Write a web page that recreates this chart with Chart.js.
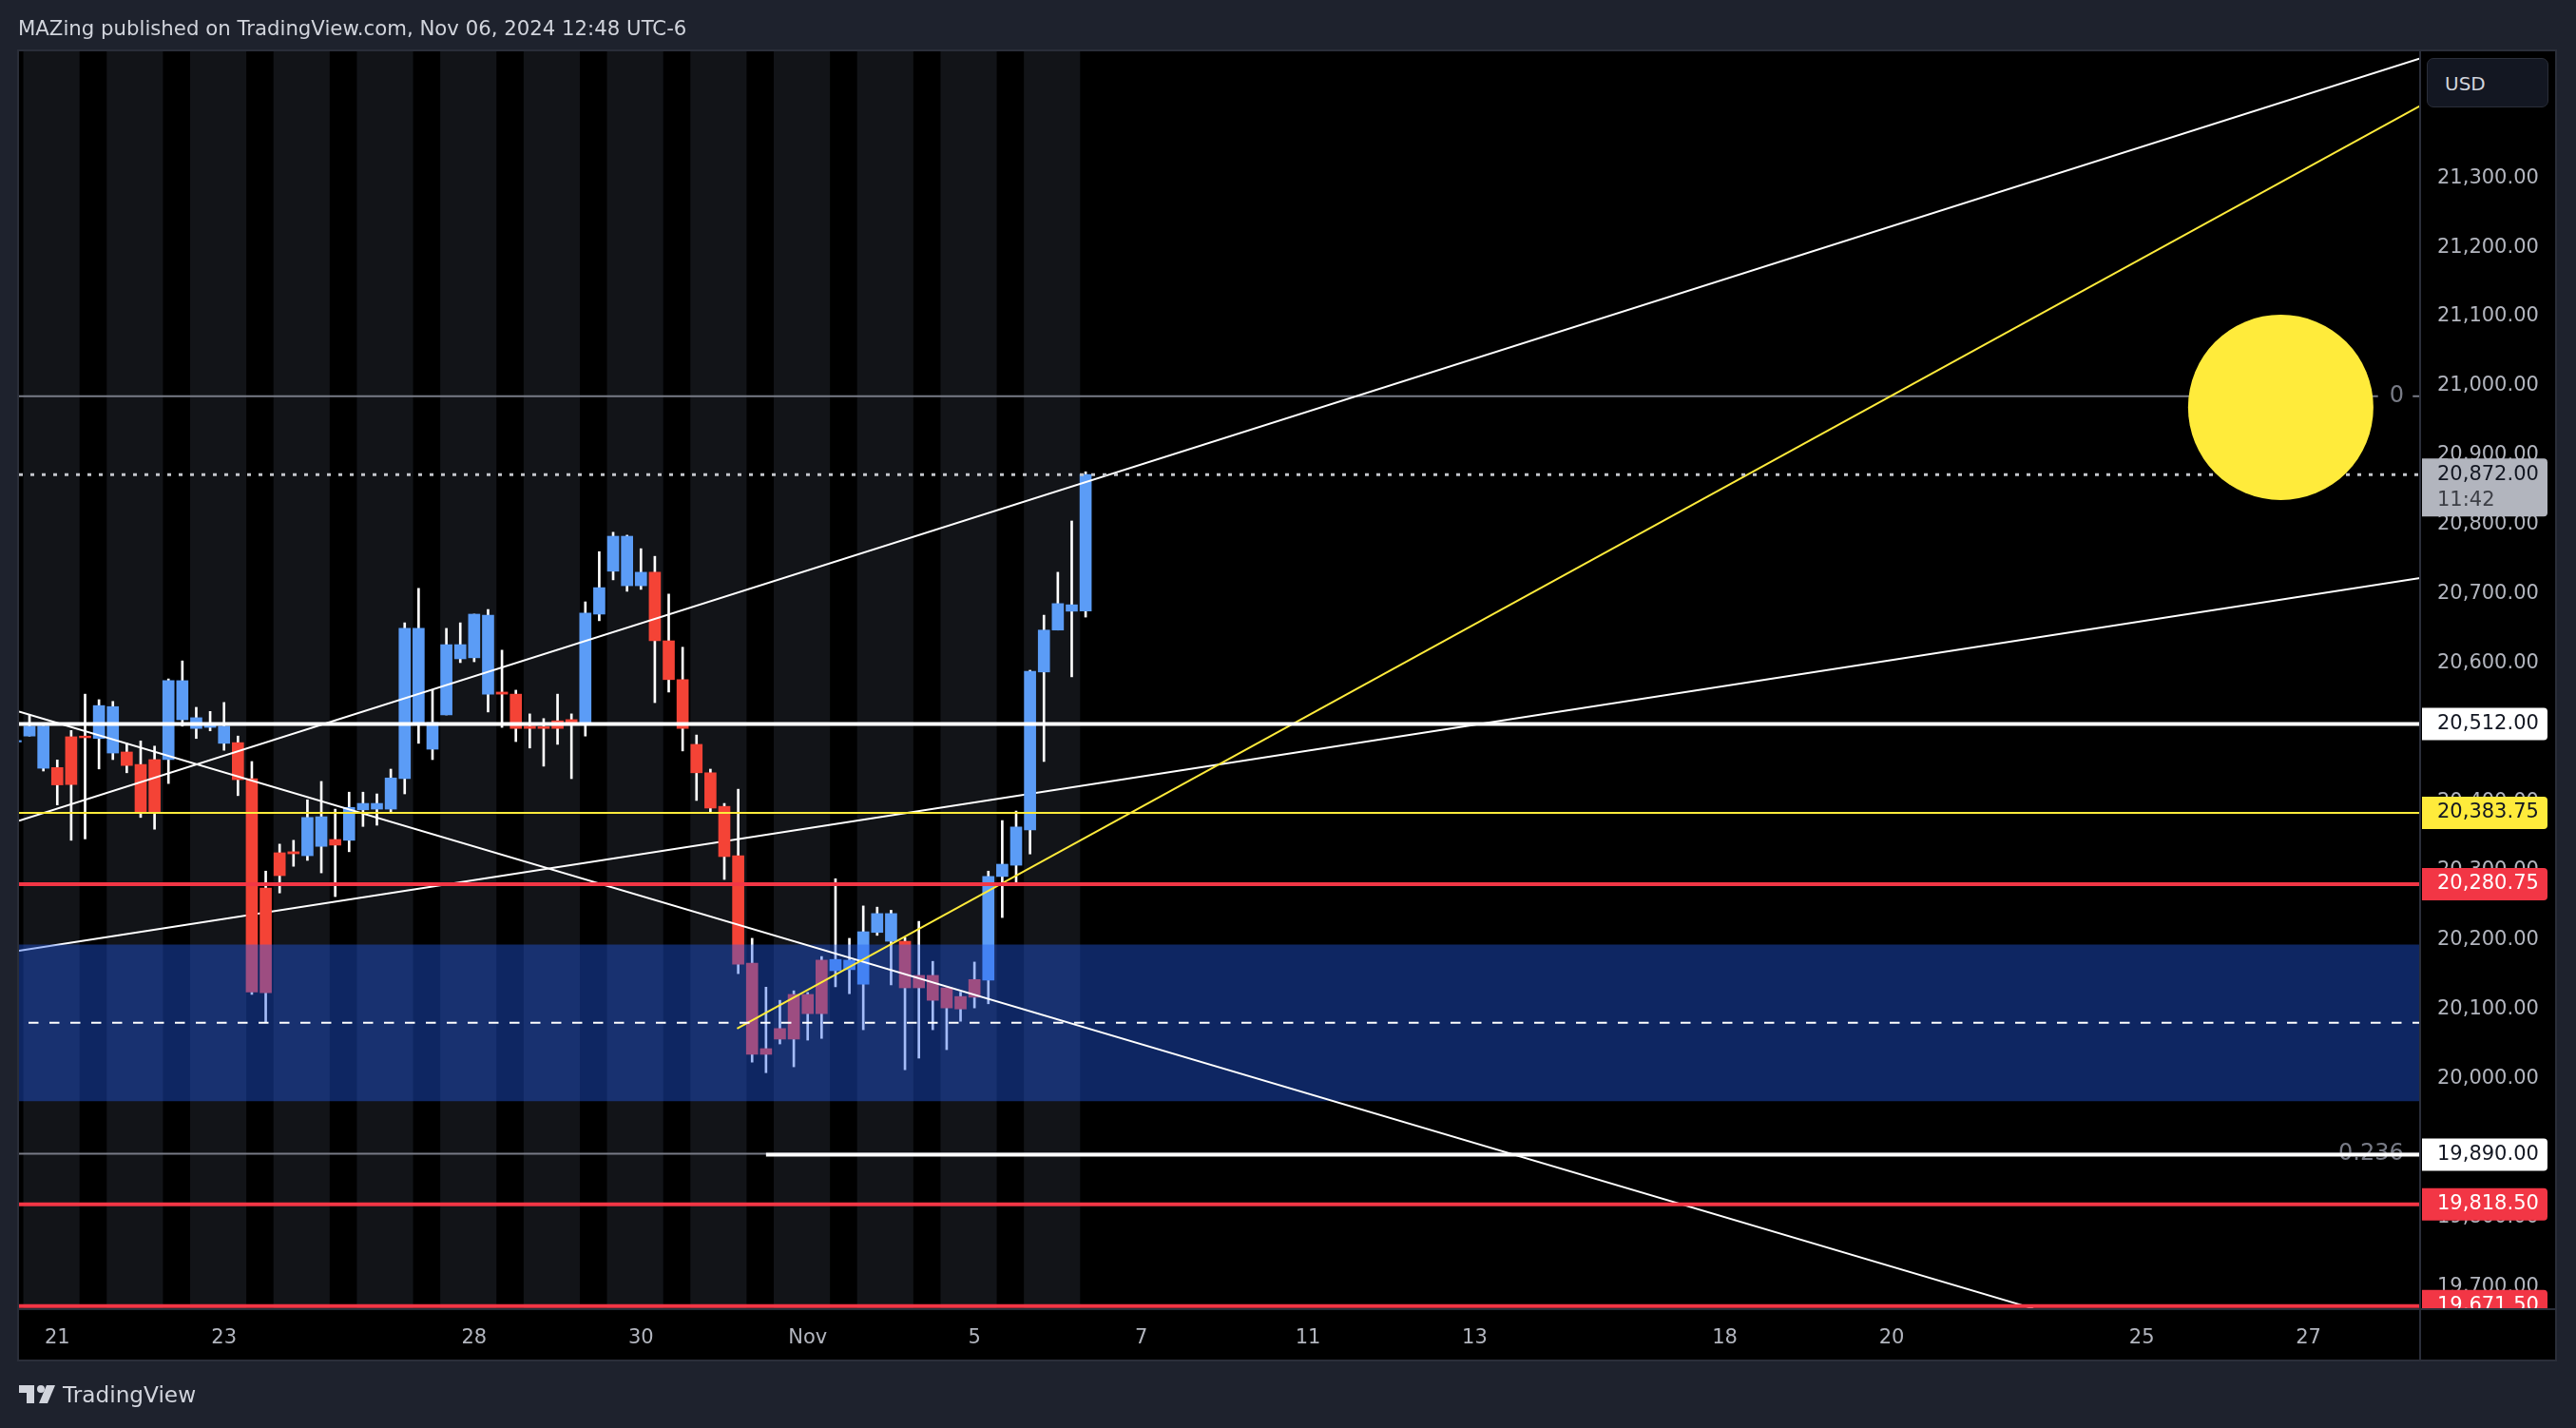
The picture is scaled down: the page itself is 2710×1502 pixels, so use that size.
<!DOCTYPE html>
<html><head><meta charset="utf-8">
<style>
html,body{margin:0;padding:0;background:#1e222d;overflow:hidden;width:2710px;height:1502px}
#c{position:absolute;left:0;top:0}
.t{position:absolute;font-family:"DejaVu Sans",sans-serif;white-space:nowrap}
#title{left:19px;top:18px;font-size:21.25px;line-height:24px;color:#d1d4dc}
#brand{left:66px;top:1453px;font-size:23.2px;line-height:28px;color:#d1d4dc}
#logo{position:absolute;left:20px;top:1457px}
#usd{position:absolute;left:2553px;top:61px;width:128px;height:52px;box-sizing:border-box;background:#131722;border:1.5px solid #2a2e39;border-radius:7px;color:#d1d4dc;font:20px/52px "DejaVu Sans",sans-serif;padding-left:18px}
</style></head><body>
<canvas id="c" width="2710" height="1502" style="width:2710px;height:1502px"></canvas>
<div class="t" id="title">MAZing published on TradingView.com, Nov 06, 2024 12:48 UTC-6</div>
<svg id="logo" width="38" height="20" viewBox="0 0 38 20"><path fill="#d1d4dc" d="M0 0H16V19H8V8H0Z"/><circle cx="23" cy="4" r="4" fill="#d1d4dc"/><path fill="#d1d4dc" d="M29 0H38L30 19H21Z"/></svg>
<div class="t" id="brand">TradingView</div>
<div id="usd">USD</div>
<script src="https://cdn.jsdelivr.net/npm/chart.js@4"></script>
<script>
const opens=[20486,20494.5,20448,20449,20493.5,20494.5,20491,20470,20471.5,20453.5,20460.5,20460.5,20518,20505.5,20507,20484,20485,20433,20275,20326,20327.5,20321.75,20335.25,20345.25,20344,20388,20389,20389,20433,20511.25,20475.5,20525,20606,20607.5,20555,20558,20555,20508.75,20508,20516.5,20518.25,20513,20670.5,20732.5,20711.5,20711.5,20731,20632,20576,20482.5,20441.5,20393,20321.75,20166.75,20043.25,20072.25,20121.5,20121.5,20171,20155.75,20157.25,20136.25,20211,20198.25,20198.25,20149,20149,20131,20118.5,20143,20142,20291.75,20308,20359,20587,20647.5,20674.75,20675];
const highs=[20488,20525.5,20509,20460,20502.5,20555,20547,20544.5,20484,20487.5,20480,20577,20603,20536,20530,20543,20494.5,20457.75,20299.5,20338.5,20344,20402.5,20429,20389,20413.5,20413.5,20411,20446.75,20658,20707.75,20561.25,20650,20658,20670.5,20677.25,20618.5,20560.75,20526.5,20519.75,20555,20526.5,20688.25,20760.75,20788.75,20784.5,20765,20754,20699.5,20622.75,20496,20446.75,20397.25,20417.75,20202.5,20132,20113,20126.75,20124.25,20176.25,20288.5,20202.5,20249.25,20247.5,20243,20203.5,20227,20169.25,20131,20124.75,20168.25,20299.5,20372.5,20386.25,20589.5,20669,20731,20805,20876];
const lows=[20486,20494.5,20444,20395,20344,20346,20447,20460.5,20441.5,20377,20360,20426,20508.75,20491,20502,20474,20408.5,20121.5,20081.5,20268,20306.5,20315,20297,20262.75,20327.5,20364,20365.75,20383.75,20411,20484,20460.5,20525,20600.5,20601.75,20529.25,20507,20486.5,20477.25,20451,20482.5,20433,20494.5,20661,20720,20703.5,20706.25,20542.75,20558,20473,20401.5,20383.75,20287.5,20151.5,20023.75,20008.5,20050,20017,20055.5,20058,20132.5,20122.5,20070.5,20206.75,20135.25,20012.75,20029.5,20070.5,20041.75,20082.75,20102,20108,20232.5,20283.25,20324.25,20457.75,20647.5,20580,20666.25];
const closes=[20488,20508.75,20509,20424,20424.5,20492,20538.5,20537,20452,20383.75,20383.75,20574.5,20574.5,20521,20513,20508.75,20431.5,20125,20124,20293,20324.5,20377,20378,20337,20391.5,20397.25,20397.25,20434,20650,20650,20514,20626.5,20626.5,20670.5,20669,20555,20505.5,20505.5,20505.5,20505.5,20513,20672,20708.75,20783,20783,20731,20632,20576,20505.5,20441.5,20390.5,20320.5,20165,20035,20035,20057,20057,20093.75,20093.75,20172,20171,20212,20238.25,20238.25,20131,20131,20113,20102,20100.5,20117.5,20291.75,20309.5,20363.25,20588,20647.5,20685.75,20684,20872];
const sessionStarts=[1,7,13,19,25,31,37,43,49,55,61,67,73];
const timeTickIndex=[3,15,33,45,57,69,81,93,105,123,135,153,165];
const timeTickLabels=['21','23','28','30','Nov','5','7','11','13','18','20','25','27'];
const priceTicks=[19700,19800,20000,20100,20200,20300,20400,20500,20600,20700,20800,20900,21000,21100,21200,21300,21400];
const levelWhite=20512, levelYellow=20383.75, levelRed=20280.75, levelRed2=19818.5, levelRed3=19671.5, levelWhite2=19890, lastPrice=20872;
const zoneTop=20193, zoneBottom=19967.7, zoneMid=20080.5;
const fib0=20985.2, fib236=19891.5;
const xMin=0.246, xMax=173.03, yMin=19668.5, yMax=21483;
const risingUpper=[{x:xMin,y:20372.1},{x:xMax,y:21472.9}];
const risingLower=[{x:xMin,y:20184.6},{x:xMax,y:20722.7}];
const falling=[{x:xMin,y:20529.7},{x:145.2,y:19668}];
const yellowTrend=[{x:51.92,y:20072.2},{x:xMax,y:21404.3}];
const sun=[{x:163,y:20969}];
const white2Start=54;
const fib0Segments=[{x:xMin,y:fib0},{x:170,y:fib0},{x:170,y:null},{x:172.5,y:null},{x:172.5,y:fib0},{x:xMax,y:fib0}];

const UP='#5b9cf6',DOWN='#f44336',BLUE_Z='rgba(34,93,239,0.41)',YEL='#ffeb3b',RED='#f23645',WHITE='#ffffff',GRID='#2a2e39',FIB='#787b86';
const FONT='"DejaVu Sans",sans-serif';
class SunController extends Chart.BubbleController{getMaxOverflow(){return 0;}}
SunController.id='sun';
SunController.defaults=Object.assign({},Chart.BubbleController.defaults);
SunController.overrides=Chart.BubbleController.overrides;
Chart.register(SunController);
const line=(data,color,width,order,dash)=>({type:'line',data,borderColor:color,borderWidth:width,pointRadius:0,borderDash:dash||[],order,fill:false,tension:0,spanGaps:false,borderCapStyle:'butt'});
const hline=(y,color,width,order,dash,from)=>line([{x:from===undefined?xMin:from,y},{x:xMax,y}],color,width,order,dash);
const bar=(data,color,thick,order)=>({type:'bar',data,backgroundColor:color,barThickness:thick,grouped:false,borderWidth:0,borderSkipped:false,order});

const datasets=[
 bar(sessionStarts.map(s=>({x:s+1.58,y:[yMin,yMax]})),'#121418',58.5,100),
 line(fib0Segments,FIB,2,98),
 hline(fib236,FIB,2,98),
 line(risingLower,WHITE,2,95),
 bar(opens.map((o,i)=>({x:i,y:[lows[i],highs[i]]})),WHITE,2,90),
 bar(opens.map((o,i)=>({x:i,y:[o,closes[i]]})),opens.map((o,i)=>closes[i]>=o?UP:DOWN),12,80),
 bar([{x:(xMin+xMax)/2,y:[zoneBottom,zoneTop]}],BLUE_Z,2526,70),
 line(falling,WHITE,2,60),
 line(risingUpper,WHITE,2,60),
 line(yellowTrend,YEL,2,58),
 hline(zoneMid,WHITE,2,56,[10.5,11.5],0.93),
 hline(lastPrice,'#c4c6cc',3,55,[4,8]),
 hline(levelYellow,YEL,2,50),
 hline(levelRed,RED,4,50),
 hline(levelRed2,RED,4,50),
 hline(levelRed3,RED,4,50),
 hline(levelWhite,WHITE,4,49),
 hline(levelWhite2,WHITE,4,49,[],white2Start),
 {type:'sun',data:sun,radius:97.5,backgroundColor:YEL,borderColor:YEL,borderWidth:0,order:10}
];
const fmt=v=>v.toLocaleString('en-US',{minimumFractionDigits:2,maximumFractionDigits:2});
const frame={id:'frame',
 beforeDraw(ch){const c=ch.ctx,a=ch.chartArea;c.save();c.fillStyle='#1e222d';c.fillRect(0,0,2710,1502);c.fillStyle='#000';c.fillRect(a.left,a.top,a.right-a.left+143,a.bottom-a.top+55);c.restore();},
 beforeDatasetsDraw(ch){const c=ch.ctx,y=ch.scales.y,x=ch.scales.x;c.save();c.fillStyle=FIB;c.font='24px '+FONT;c.textBaseline='middle';c.textAlign='center';
  c.fillText('0',x.getPixelForValue(171.35),y.getPixelForValue(fib0));
  c.fillText('0.236',x.getPixelForValue(169.5),y.getPixelForValue(fib236));c.restore();},
 afterDatasetsDraw(ch){const c=ch.ctx,a=ch.chartArea,y=ch.scales.y;c.save();
  const R=a.right+2,W=132,H=34;
  c.fillStyle='#000';c.fillRect(a.right+2,a.top,140,68);
  c.beginPath();c.rect(a.left,a.top,a.right-a.left+143,a.bottom-a.top);c.clip();
  c.textBaseline='middle';c.textAlign='left';c.font='21px '+FONT;
  const badge=(p,bg,fg)=>{const py=y.getPixelForValue(p);c.fillStyle=bg;c.beginPath();c.roundRect(R,py-H/2,W,H,[0,4,4,0]);c.fill();c.fillStyle=fg;c.fillText(fmt(p),a.right+18,py);};
  badge(levelWhite,WHITE,'#131722');badge(levelYellow,YEL,'#131722');badge(levelRed,RED,WHITE);badge(levelWhite2,WHITE,'#131722');badge(levelRed2,RED,WHITE);badge(levelRed3,RED,WHITE);
  const py=y.getPixelForValue(lastPrice);c.fillStyle='#b2b5be';c.beginPath();c.roundRect(R,py-17,W,61,[0,4,4,0]);c.fill();
  c.fillStyle='#131722';c.fillText(fmt(lastPrice),a.right+18,py+0.5);c.fillStyle='#3d3f46';c.fillText('11:42',a.right+18,py+27.5);
  c.restore();
  c.save();c.strokeStyle=GRID;c.lineWidth=2;c.strokeRect(a.left-1,a.top-1,a.right-a.left+144,a.bottom-a.top+56);
  c.beginPath();c.moveTo(a.right,a.top);c.lineTo(a.right,a.bottom+55);c.moveTo(a.left,a.bottom+1);c.lineTo(a.right+143,a.bottom+1);c.stroke();c.restore();}
};
new Chart(document.getElementById('c'),{type:'bar',data:{datasets},plugins:[frame],options:{
 responsive:false,animation:false,devicePixelRatio:1,
 layout:{padding:{left:20,top:54,right:21,bottom:71}},
 plugins:{legend:{display:false},tooltip:{enabled:false},title:{display:false}},
 events:[],
 scales:{
  x:{type:'linear',min:xMin,max:xMax,offset:false,grid:{display:false,drawTicks:false},border:{display:false},
   afterBuildTicks:s=>{s.ticks=timeTickIndex.map(v=>({value:v}));},
   afterFit:s=>{s.height=55;},
   ticks:{autoSkip:false,maxRotation:0,minRotation:0,padding:19,color:'#b2b5be',font:{family:'DejaVu Sans',size:21},callback:v=>timeTickLabels[timeTickIndex.indexOf(v)]}},
  y:{type:'linear',position:'right',min:yMin,max:yMax,grid:{display:false,drawTicks:false},border:{display:false},
   afterBuildTicks:s=>{s.ticks=priceTicks.map(v=>({value:v}));},
   afterFit:s=>{s.width=143;},
   ticks:{autoSkip:false,padding:18,color:'#b2b5be',font:{family:'DejaVu Sans',size:21},callback:v=>fmt(v)}}
 }}});
</script></body></html>
